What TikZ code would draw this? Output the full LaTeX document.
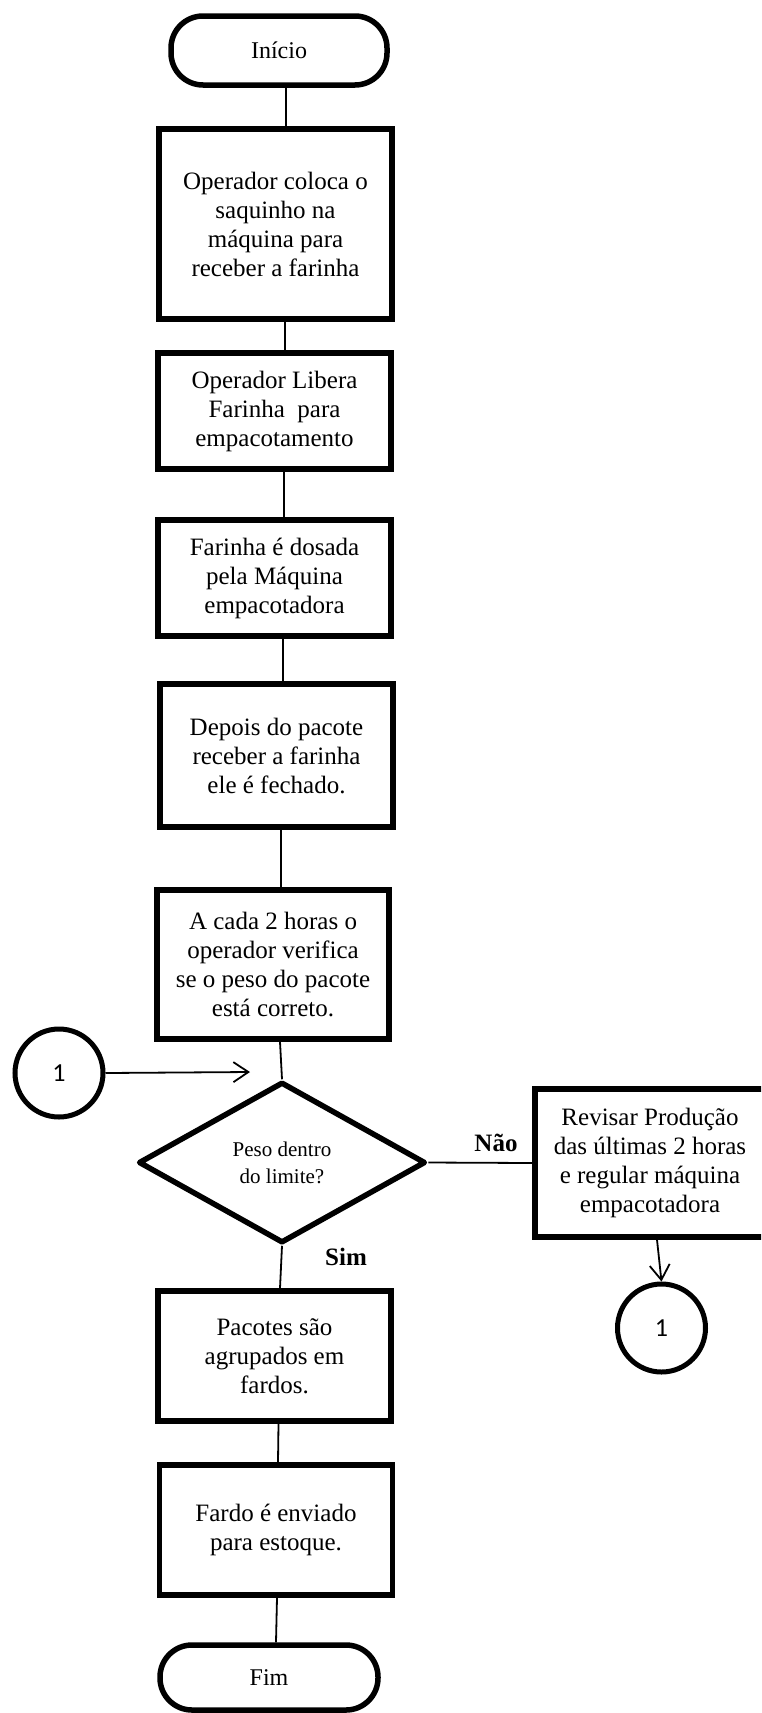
\documentclass[tikz,border=0pt]{standalone}
\usepackage{fontspec}
\setmainfont{Liberation Serif}
\newfontfamily\numfont{Carlito}
\usetikzlibrary{shapes.geometric,arrows.meta}
\begin{document}
\begin{tikzpicture}[x=1pt,y=-1pt,
  box/.style={draw,line width=5.5pt,rectangle,inner sep=0pt,align=center,
    font=\fontsize{25}{29}\selectfont},
  term/.style={draw,line width=5.5pt,rectangle,rounded corners=32pt,inner sep=0pt,
    font=\fontsize{24}{29}\selectfont},
  decis/.style={draw,line width=5.5pt,diamond,line join=round,inner sep=0pt,align=center,
    font=\fontsize{21}{27}\selectfont},
  conncirc/.style={draw,line width=5pt,circle,inner sep=0pt,minimum size=88pt,
    font=\numfont\fontsize{26}{26}\selectfont},
  conn/.style={line width=1.8pt},
  arr/.style={line width=1.8pt,-{Straight Barb[length=15pt,width=20pt,line width=1.8pt]}},
  lbl/.style={font=\bfseries\fontsize{25}{25}\selectfont}
]
\useasboundingbox (0,0) rectangle (761,1713);
\clip (0,0) rectangle (761,1713);

\node[term,minimum width=216pt,minimum height=69pt] (inicio) at (279,50.5) {Início};
\node[box,minimum width=233pt,minimum height=190pt] (b1) at (275.5,224)
  {Operador coloca o\\saquinho na\\máquina para\\receber a farinha};
\node[box,minimum width=233pt,minimum height=116pt] (b2) at (274.5,411)
  {Operador Libera\\Farinha \ para\\empacotamento};
\node[box,minimum width=233pt,minimum height=116pt] (b3) at (274.5,578)
  {Farinha é dosada\\pela Máquina\\empacotadora};
\node[box,minimum width=233pt,minimum height=143pt] (b4) at (276.5,755.5)
  {Depois do pacote\\receber a farinha\\ele é fechado.};
\node[box,minimum width=232pt,minimum height=149pt] (b5) at (273,964.5)
  {A cada 2 horas o\\operador verifica\\se o peso do pacote\\está correto.};
\node[decis,minimum width=287pt,minimum height=161pt] (dec) at (282,1162.5)
  {Peso dentro\\do limite?};
\node[box,minimum width=230pt,minimum height=148pt] (rev) at (650,1163)
  {Revisar Produção\\das últimas 2 horas\\e regular máquina\\empacotadora};
\node[conncirc] (c1) at (59,1073) {1};
\node[conncirc] (c2) at (661.5,1328) {1};
\node[box,minimum width=233pt,minimum height=130pt] (b6) at (274.5,1356)
  {Pacotes são\\agrupados em\\fardos.};
\node[box,minimum width=233pt,minimum height=130pt] (b7) at (276,1530)
  {Fardo é enviado\\para estoque.};
\node[term,minimum width=218pt,minimum height=65pt] (fim) at (269,1677.5) {Fim};

\node[lbl] (nao) at (496,1143) {Não};
\node[lbl] (sim) at (346,1257) {Sim};

\coordinate (tip) at (250,1072);

\draw[conn] ([xshift=7pt]inicio.south) -- ([xshift=10.5pt]b1.north);
\draw[conn] ([xshift=9.5pt]b1.south) -- ([xshift=10.5pt]b2.north);
\draw[conn] ([xshift=9.5pt]b2.south) -- ([xshift=9.5pt]b3.north);
\draw[conn] ([xshift=8.5pt]b3.south) -- ([xshift=6.5pt]b4.north);
\draw[conn] ([xshift=4.5pt]b4.south) -- ([xshift=8pt]b5.north);
\draw[conn] ([xshift=7pt]b5.south) -- (dec.north);
\draw[conn] (dec.south) -- ([xshift=5.5pt]b6.north);
\draw[conn] ([xshift=4pt]b6.south) -- ([xshift=2pt]b7.north);
\draw[conn] ([xshift=1pt]b7.south) -- ([xshift=7pt]fim.north);
\draw[conn] (dec.east) -- (rev.west);
\draw[arr] (c1.east) -- (tip);
\draw[arr] ([xshift=7pt]rev.south) -- (c2.north);
\end{tikzpicture}
\end{document}
